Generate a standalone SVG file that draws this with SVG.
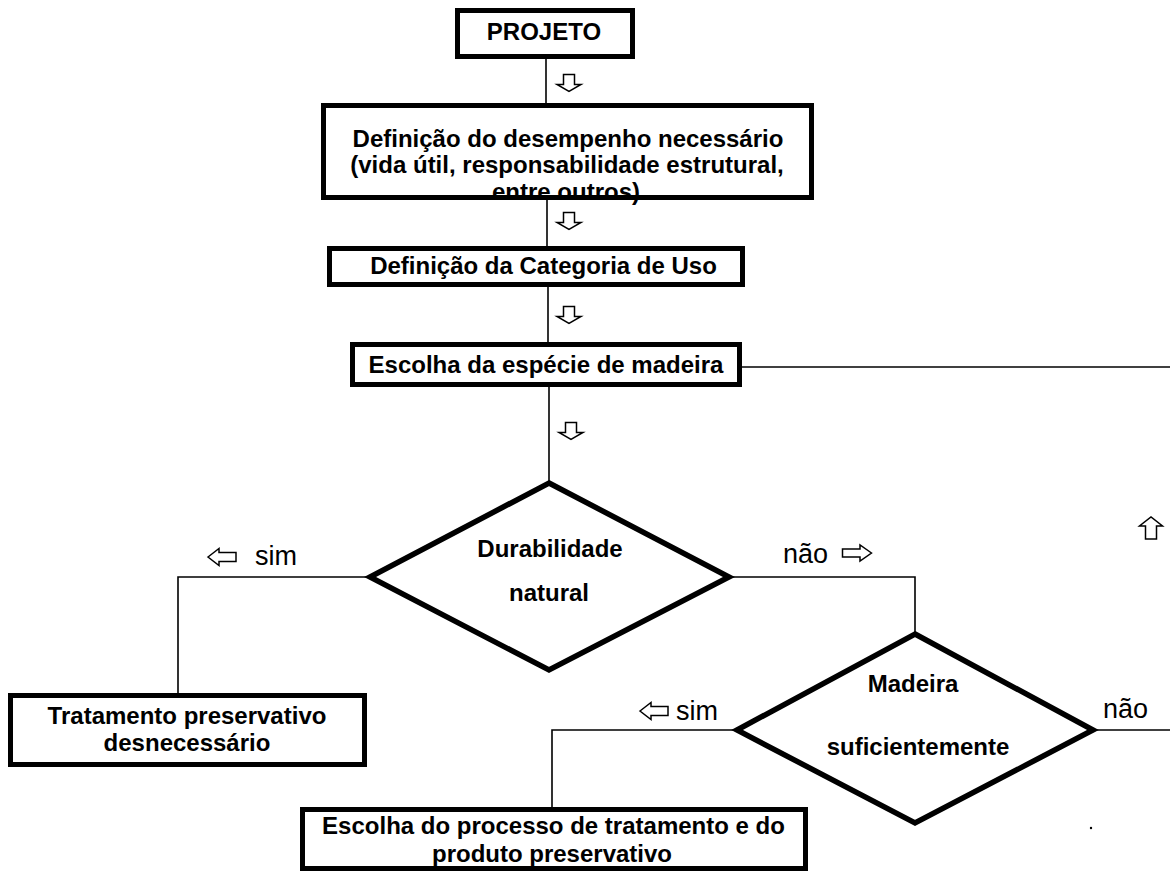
<svg xmlns="http://www.w3.org/2000/svg" xmlns:xlink="http://www.w3.org/1999/xlink" width="1170" height="875" viewBox="0 0 1170 875">
<style>
.box{fill:#fff;stroke:#000;stroke-width:5}
.frame{fill:none;stroke:#000;stroke-width:5}
.dia{fill:#fff;stroke:#000;stroke-width:5.5;stroke-linejoin:miter}
.lbl{font-family:"Liberation Sans",Arial,sans-serif;font-weight:bold;font-size:24px;fill:#000;text-anchor:middle}
.yn{font-family:"Liberation Sans",Arial,sans-serif;font-size:27px;fill:#000}
.ln{fill:none;stroke:#000;stroke-width:1.6}
.arr{fill:#fff;stroke:#000;stroke-width:1.5;stroke-linejoin:miter}
</style>
<defs>
<path id="aDown" class="arr" d="M-5.5,-8.5 H5.5 V1.5 H12 L0,8.5 L-12,1.5 H-5.5 Z"/>
<path id="aUp" class="arr" d="M-5.5,11 H5.5 V-2 H11.5 L0,-11 L-11.5,-2 H-5.5 Z"/>
<path id="aLeft" class="arr" d="M-14,0 L-3,-8.5 V-4.5 H14 V4.5 H-3 V8.5 Z"/>
<path id="aRight" class="arr" d="M14.5,0 L3,-8 V-4 H-14.5 V4 H3 V8 Z"/>
</defs>
<rect width="1170" height="875" fill="#fff"/>
<g id="connectors">
<path class="ln" d="M546,58 V105"/>
<path class="ln" d="M547,198 V248"/>
<path class="ln" d="M548,285 V344"/>
<path class="ln" d="M549,387 V483"/>
<path class="ln" d="M742,367 H1170"/>
<path class="ln" d="M370,577 H178 V694"/>
<path class="ln" d="M729,577 H915 V634"/>
<path class="ln" d="M737,730 H552 V808"/>
<path class="ln" d="M1093,730 H1170"/>
<use xlink:href="#aDown" x="569" y="83"/>
<use xlink:href="#aDown" x="569" y="221"/>
<use xlink:href="#aDown" x="569" y="315"/>
<use xlink:href="#aDown" x="571" y="431"/>
<use xlink:href="#aLeft" x="222" y="557"/>
<use xlink:href="#aRight" x="857" y="553"/>
<use xlink:href="#aLeft" x="654" y="711"/>
<use xlink:href="#aUp" x="1151" y="528"/>
<text class="yn" x="255" y="565">sim</text>
<text class="yn" x="783" y="563">não</text>
<text class="yn" x="676" y="720">sim</text>
<text class="yn" x="1103" y="718">não</text>
<circle cx="1091" cy="828" r="1.2" fill="#000"/>
</g>
<g id="projeto">
<rect class="box" x="457.5" y="10.5" width="175" height="46"/>
<text class="lbl" x="544" y="40">PROJETO</text>
</g>
<g id="desempenho">
<rect class="box" x="323.5" y="105.5" width="488" height="92"/>
<text class="lbl" x="568" y="147">Definição do desempenho necessário</text>
<text class="lbl" x="567" y="173">(vida útil, responsabilidade estrutural,</text>
<text class="lbl" x="566" y="200">entre outros)</text>
<rect class="frame" x="323.5" y="105.5" width="488" height="92"/>
</g>
<g id="categoria">
<rect class="box" x="329.5" y="248.5" width="413" height="36"/>
<text class="lbl" x="543.5" y="274">Definição da Categoria de Uso</text>
</g>
<g id="especie">
<rect class="box" x="352.5" y="344.5" width="387" height="40"/>
<text class="lbl" x="546" y="373">Escolha da espécie de madeira</text>
</g>
<g id="durabilidade">
<polygon class="dia" points="549,483 729,577 549,670 370,577"/>
<text class="lbl" x="550" y="557">Durabilidade</text>
<text class="lbl" x="549" y="601">natural</text>
</g>
<g id="tratamento-desnecessario">
<rect class="box" x="10.5" y="695.5" width="354" height="69"/>
<text class="lbl" x="187" y="724">Tratamento preservativo</text>
<text class="lbl" x="187" y="751">desnecessário</text>
</g>
<g id="madeira-suficiente">
<polygon class="dia" points="915,634 1093,730 915,823 737,730"/>
<text class="lbl" x="913" y="692">Madeira</text>
<text class="lbl" x="918" y="755">suficientemente</text>
</g>
<g id="processo">
<rect class="box" x="302.5" y="809.5" width="503" height="59"/>
<text class="lbl" x="553.5" y="834">Escolha do processo de tratamento e do</text>
<text class="lbl" x="552" y="862">produto preservativo</text>
</g>
</svg>
